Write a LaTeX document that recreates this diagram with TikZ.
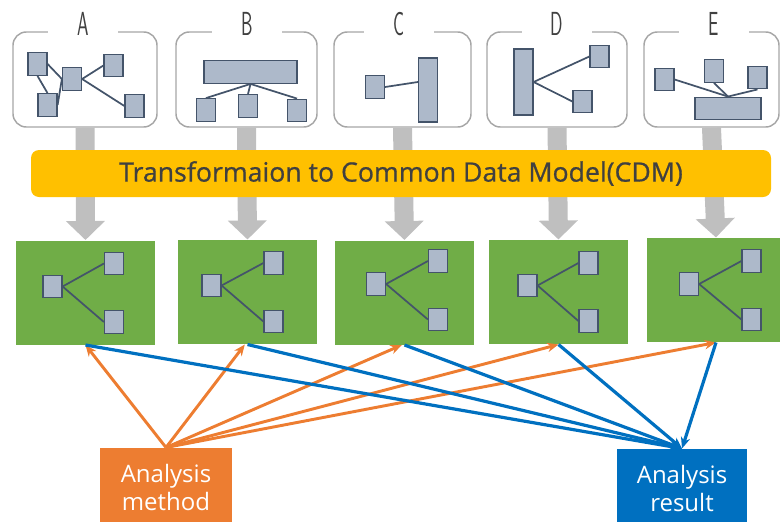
\documentclass[tikz,border=0pt]{standalone}
\usepackage{fontspec}
\newfontfamily\uifont{Open Sans}
\newfontfamily\bannerfont[FakeBold=0.7]{Open Sans}
\usetikzlibrary{arrows.meta}

\definecolor{cdmyellow}{HTML}{FFC000}
\definecolor{cdmgreen}{HTML}{70AD47}
\definecolor{sqfill}{HTML}{ADB9CA}
\definecolor{sqline}{HTML}{44546A}
\definecolor{flowgray}{HTML}{BFBFBF}
\definecolor{boxgray}{HTML}{A6A6A6}
\definecolor{txtdark}{HTML}{404040}
\definecolor{methodorange}{HTML}{ED7D31}
\definecolor{resultblue}{HTML}{0070C0}

\tikzset{every picture/.style={line width=0.75pt}}
\tikzset{
  srcbox/.style={draw=boxgray, line width=1.1pt, rounded corners=10pt, minimum height=71.25pt, inner sep=0pt},
  srclabel/.style={fill=white, inner sep=0pt, minimum width=52.5pt, minimum height=20pt, text=txtdark, font=\sffamily\fontsize{25}{25}\selectfont},
  sq/.style={draw=sqline, fill=sqfill, line width=0.9pt, inner sep=0pt, minimum width=14.25pt, minimum height=17pt},
  link/.style={draw=sqline, line width=1.3pt},
  cdmbox/.style={fill=cdmgreen, inner sep=0pt, minimum width=104pt, minimum height=78pt},
  flow/.style={draw=flowgray, line width=14.25pt, -{Triangle[length=14.25pt, width=28.5pt]}},
  banner/.style={fill=cdmyellow, rounded corners=6pt, inner sep=0pt, minimum width=555pt, minimum height=35.25pt, text=txtdark, font=\bannerfont\fontsize{20}{24}\selectfont},
  endbox/.style={inner sep=0pt, minimum height=58.5pt, text=white, align=center, font=\uifont\fontsize{18}{21}\selectfont},
  tomethod/.style={draw=methodorange, line width=2.2pt, -{Stealth[length=8.5pt, width=7pt]}},
  toresult/.style={draw=resultblue, line width=2.4pt, -{Stealth[length=8.5pt, width=7pt]}},
}

\newcommand{\lbl}[1]{\scalebox{0.55}[1]{#1}}

\begin{document}
\begin{tikzpicture}[x=0.75pt,y=0.75pt,yscale=-1,xscale=1]
\path[use as bounding box] (0,0) rectangle (780,521);

%Source boxes
\node[srcbox, minimum width=108pt] (srcA) at (85,79.5) {};
\node[srcbox, minimum width=105.75pt] (srcB) at (246.5,79.5) {};
\node[srcbox, minimum width=102.75pt] (srcC) at (402.5,79.5) {};
\node[srcbox, minimum width=105pt] (srcD) at (557,79.5) {};
\node[srcbox, minimum width=101.25pt] (srcE) at (711.5,79.5) {};

% Text Node
\node[srclabel] (labA) at (83,24) {\lbl{A}};
\node[srclabel] (labB) at (247,24) {\lbl{B}};
\node[srclabel] (labC) at (399,24) {\lbl{C}};
\node[srclabel] (labD) at (557,24) {\lbl{D}};
\node[srclabel] (labE) at (714,24) {\lbl{E}};

%Shape: source A
\node[sq] (a1) at (37.5,64) {};
\node[sq] (a2) at (47.5,105) {};
\node[sq] (a3) at (72,79) {};
\node[sq] (a4) at (113.5,65.5) {};
\node[sq] (a5) at (134.5,106) {};
\draw[link] (a1.east) -- (a3.west);
\draw[link] (a1.south) -- (a2.north);
\draw[link] (a2.east) -- (a3.west);
\draw[link] (a3.east) -- (a4.west);
\draw[link] (a3.east) -- (a5.west);

%Shape: source B
\node[sq, minimum width=69.75pt] (b0) at (250.5,72) {};
\node[sq] (b1) at (206,110) {};
\node[sq] (b2) at (248,106) {};
\node[sq] (b3) at (297,110.5) {};
\draw[link] (b0.south) -- (b1.north);
\draw[link] (b0.south) -- (b2.north);
\draw[link] (b0.south) -- (b3.north);

%Shape: source C
\node[sq] (c1) at (375,87) {};
\node[sq, minimum height=48pt] (c2) at (428,90) {};
\draw[link] (c1.east) -- ([yshift=-6pt]c2.west);

%Shape: source D
\node[sq, minimum height=49.5pt] (d0) at (523.5,82) {};
\node[sq] (d1) at (599.5,56.5) {};
\node[sq] (d2) at (582.5,101.5) {};
\draw[link] (d0.east) -- (d1.west);
\draw[link] (d0.east) -- (d2.west);

%Shape: source E
\node[sq] (e1) at (664.5,79.5) {};
\node[sq] (e2) at (714,71) {};
\node[sq] (e3) at (757.5,77.5) {};
\node[sq, minimum width=49.5pt] (e0) at (728,108.5) {};
\draw[link] (e0.north) -- (e1.east);
\draw[link] (e0.north) -- (e2.south);
\draw[link] (e0.north) -- (e3.south);

%Shape: CDM boxes
\node[cdmbox] (cdm1) at (85.5,292.5) {};
\node[cdmbox] (cdm2) at (247.5,292) {};
\node[cdmbox] (cdm3) at (404.5,292.5) {};
\node[cdmbox] (cdm4) at (558.5,292) {};
\node[cdmbox] (cdm5) at (716,290) {};

%Gray flow arrows
\draw[flow] (srcA.south) -- (cdm1.north);
\draw[flow] (srcB.south) -- (cdm2.north);
\draw[flow] (srcC.south) -- (cdm3.north);
\draw[flow] (srcD.south) -- (cdm4.north);
\draw[flow] (srcE.south) -- (cdm5.north);

% Text Node
\node[banner] (trans) at (401,173.5) {Transformaion to Common Data Model(CDM)};

%Shape: CDM trees
\node[sq] (g1l) at (52.5,286.5) {};
\node[sq] (g1a) at (114,263.5) {};
\node[sq] (g1b) at (114,322) {};
\draw[link] (g1l.east) -- (g1a.west);
\draw[link] (g1l.east) -- (g1b.west);

\node[sq] (g2l) at (211.5,285.5) {};
\node[sq] (g2a) at (273.5,263) {};
\node[sq] (g2b) at (273.5,321.5) {};
\draw[link] (g2l.east) -- (g2a.west);
\draw[link] (g2l.east) -- (g2b.west);

\node[sq] (g3l) at (376,284) {};
\node[sq] (g3a) at (438,261) {};
\node[sq] (g3b) at (438,319.5) {};
\draw[link] (g3l.east) -- (g3a.west);
\draw[link] (g3l.east) -- (g3b.west);

\node[sq] (g4l) at (527.5,285.5) {};
\node[sq] (g4a) at (588.5,263) {};
\node[sq] (g4b) at (588.5,321) {};
\draw[link] (g4l.east) -- (g4a.west);
\draw[link] (g4l.east) -- (g4b.west);

\node[sq] (g5l) at (689,284) {};
\node[sq] (g5a) at (751.5,261) {};
\node[sq] (g5b) at (751.5,319.5) {};
\draw[link] (g5l.east) -- (g5a.west);
\draw[link] (g5l.east) -- (g5b.west);

% Text Node
\node[endbox, fill=methodorange, minimum width=99pt] (method) at (166,487) {Analysis\\method};
\node[endbox, fill=resultblue, minimum width=97.5pt] (result) at (682,488) {Analysis\\result};

%Method arrows
\draw[tomethod] (method.north) -- (cdm1.south);
\draw[tomethod] (method.north) -- ([xshift=-2pt]cdm2.south);
\draw[tomethod] (method.north) -- ([xshift=-2pt]cdm3.south);
\draw[tomethod] (method.north) -- (cdm4.south);
\draw[tomethod] (method.north) -- (cdm5.south);

%Result arrows
\draw[toresult] (cdm1.south) -- (result.north);
\draw[toresult] (cdm2.south) -- (result.north);
\draw[toresult] (cdm3.south) -- (result.north);
\draw[toresult] (cdm4.south) -- (result.north);
\draw[toresult] (cdm5.south) -- (result.north);

\end{tikzpicture}
\end{document}
